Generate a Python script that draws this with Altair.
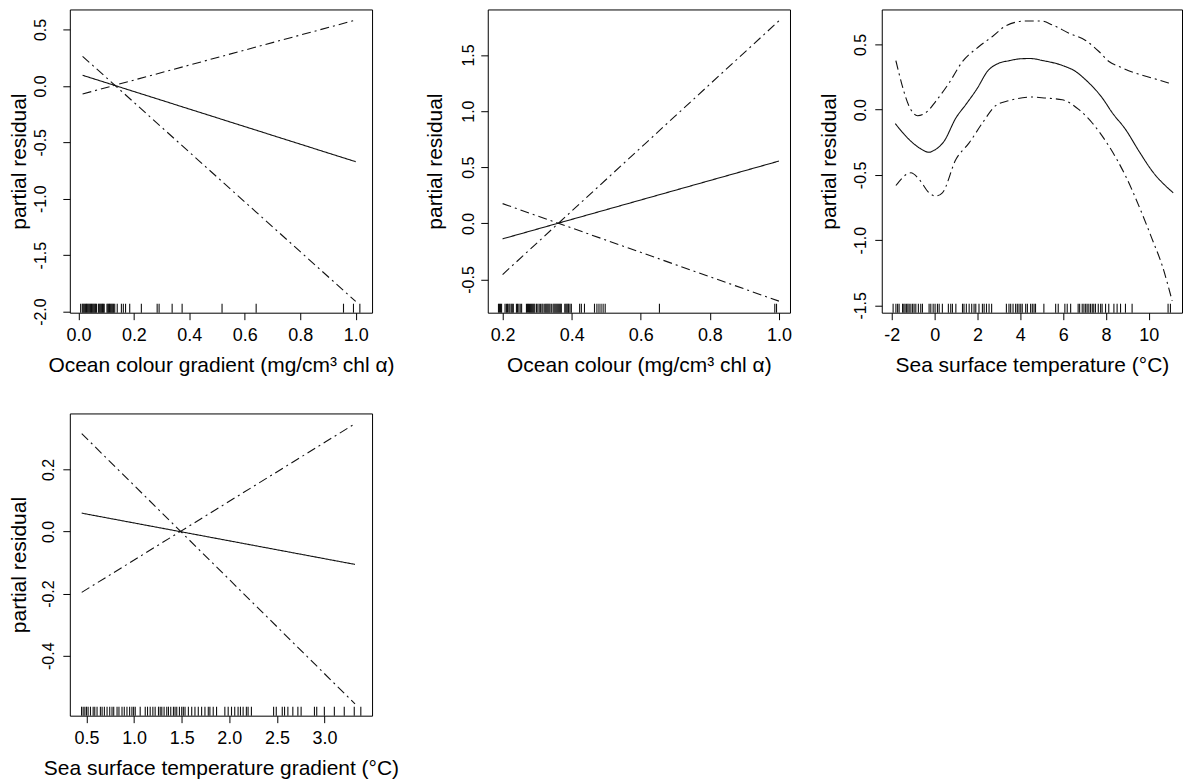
import altair as alt
import pandas as pd

FONT = "Liberation Sans"
MINUS_FIX = "replace(datum.label, '\u2212', '-')"
DASH_PATTERN = [9, 4, 2, 4]

# ---------------- Panel 1: Ocean colour gradient ----------------
p1_x = [0.015, 1.0]
p1_fit = [0.094, -0.672]
p1_upper = [-0.072, 0.583]
p1_lower = [0.262, -1.91]
p1_rug = [0.008, 0.014, 0.017, 0.020, 0.023, 0.026, 0.029, 0.032, 0.035, 0.038,
          0.041, 0.044, 0.047, 0.050, 0.053, 0.056, 0.059, 0.062, 0.065, 0.072,
          0.075, 0.078, 0.081, 0.084, 0.087, 0.090, 0.093, 0.103, 0.106, 0.109,
          0.112, 0.115, 0.118, 0.121, 0.124, 0.127, 0.131, 0.140, 0.155, 0.162,
          0.170, 0.185, 0.227, 0.284, 0.291, 0.338, 0.374, 0.518, 0.641, 0.956,
          0.992, 1.015]

# ---------------- Panel 2: Ocean colour ----------------
p2_x = [0.2, 1.0]
p2_fit = [-0.138, 0.555]
p2_upper = [-0.456, 1.805]
p2_lower = [0.176, -0.693]
p2_rug = [0.188, 0.191, 0.194, 0.197, 0.207, 0.211, 0.214, 0.218, 0.221, 0.225,
          0.228, 0.231, 0.240, 0.243, 0.247, 0.251, 0.255, 0.269, 0.272, 0.275,
          0.278, 0.281, 0.284, 0.287, 0.290, 0.293, 0.298, 0.302, 0.306, 0.310,
          0.314, 0.317, 0.322, 0.325, 0.328, 0.331, 0.334, 0.337, 0.341, 0.346,
          0.349, 0.352, 0.355, 0.358, 0.361, 0.364, 0.367, 0.370, 0.380, 0.383,
          0.386, 0.389, 0.391, 0.395, 0.399, 0.423, 0.428, 0.437, 0.466, 0.473,
          0.479, 0.485, 0.491, 0.497, 0.654, 0.988, 0.993]

# ---------------- Panel 3: Sea surface temperature ----------------
p3_fit_x = [-1.84, -1.19, -0.72, -0.26, -0.02, 0.44, 0.99, 1.45, 2.0, 2.46, 3.01,
            3.47, 4.0, 4.48, 5.03, 5.96, 6.58, 7.05, 7.83, 8.3, 8.92, 9.54, 10.16, 11.14]
p3_fit = [-0.107, -0.229, -0.293, -0.326, -0.311, -0.242, -0.064, 0.038, 0.166, 0.293,
          0.357, 0.375, 0.390, 0.392, 0.377, 0.339, 0.293, 0.229, 0.089, -0.025,
          -0.153, -0.318, -0.471, -0.637]
p3_upper_x = [-1.81, -1.11, -0.80, -0.34, 0.05, 0.67, 1.30, 2.07, 2.70, 3.32, 4.25,
              4.95, 5.50, 6.27, 7.05, 7.67, 8.14, 8.61, 9.38, 10.16, 10.94]
p3_upper = [0.375, 0.0, -0.046, -0.013, 0.064, 0.204, 0.369, 0.484, 0.561, 0.642, 0.680,
            0.680, 0.650, 0.586, 0.530, 0.446, 0.369, 0.331, 0.280, 0.242, 0.204]
p3_lower_x = [-1.81, -1.11, -0.72, -0.26, 0.05, 0.36, 0.99, 1.61, 2.23, 2.85, 3.47,
              4.56, 5.18, 5.96, 6.74, 7.36, 8.14, 8.92, 9.54, 10.16, 10.63, 11.09]
p3_lower = [-0.581, -0.484, -0.535, -0.637, -0.662, -0.637, -0.382, -0.255, -0.102, 0.031,
            0.069, 0.097, 0.089, 0.076, 0.0, -0.102, -0.280, -0.510, -0.739, -0.994,
            -1.197, -1.465]
p3_rug = [-1.94, -1.81, -1.73, -1.66, -1.50, -1.44, -1.38, -1.31, -1.25, -1.19, -1.11,
          -1.03, -0.96, -0.88, -0.76, -0.65, -0.57, -0.26, -0.18, -0.07, 0.02, 0.13,
          0.21, 0.36, 0.64, 0.75, 0.83, 0.99, 1.30, 1.37, 1.48, 1.61, 1.73, 1.84, 1.92,
          2.07, 2.23, 2.31, 2.42, 2.54, 2.66, 3.35, 3.47, 3.55, 3.66, 3.78, 3.86, 3.94,
          4.02, 4.09, 4.25, 4.33, 4.48, 4.56, 4.64, 4.71, 5.10, 5.65, 5.77, 6.08, 6.19,
          6.35, 6.70, 6.77, 6.89, 6.97, 7.05, 7.12, 7.20, 7.28, 7.36, 7.43, 7.51, 7.64,
          7.75, 7.82, 7.98, 8.13, 8.37, 8.52, 8.68, 8.91, 9.22, 10.90, 11.01]

# ---------------- Panel 4: Sea surface temperature gradient ----------------
p4_x = [0.45, 3.32]
p4_fit = [0.059, -0.106]
p4_upper = [-0.196, 0.347]
p4_lower = [0.315, -0.555]
p4_rug = [0.448, 0.465, 0.483, 0.500, 0.517, 0.542, 0.570, 0.587, 0.611, 0.646, 0.664,
          0.688, 0.716, 0.744, 0.768, 0.786, 0.821, 0.841, 0.873, 0.897, 0.925, 0.953,
          0.977, 0.995, 1.012, 1.064, 1.117, 1.141, 1.169, 1.197, 1.221, 1.256, 1.274,
          1.291, 1.315, 1.343, 1.361, 1.385, 1.413, 1.430, 1.448, 1.476, 1.500, 1.517,
          1.535, 1.570, 1.605, 1.639, 1.674, 1.709, 1.744, 1.779, 1.796, 1.831, 1.866,
          1.953, 1.988, 2.023, 2.057, 2.092, 2.117, 2.145, 2.179, 2.197, 2.232, 2.465,
          2.493, 2.556, 2.580, 2.615, 2.667, 2.720, 2.754, 2.894, 2.918, 2.998, 3.103,
          3.207, 3.312, 3.381]


def lines_df(fit_x, fit, up_x, up, lo_x, lo):
    rows = []
    for xs, ys, name in ((fit_x, fit, "fit"), (up_x, up, "upper"), (lo_x, lo, "lower")):
        for xv, yv in zip(xs, ys):
            rows.append({"x": xv, "y": yv, "series": name})
    return pd.DataFrame(rows)


def panel(df, rug, xdom, ydom, xticks, yticks, xtitle, w, h, ylabpad, ytitlex,
          xfmt, yfmt, interp="linear"):
    xenc = alt.X(
        "x:Q",
        scale=alt.Scale(domain=xdom, nice=False, zero=False),
        axis=alt.Axis(
            values=xticks, format=xfmt, title=xtitle, labelExpr=MINUS_FIX,
            grid=False, domain=False, tickSize=7, tickColor="black",
            labelPadding=21, labelBaseline="alphabetic", labelFontSize=18,
            labelFlush=False, labelOverlap=False,
            titleFontSize=21, titleX=w / 2, titleY=59, titleAlign="center",
            titleBaseline="alphabetic", titleFontWeight="normal",
        ),
    )
    yenc = alt.Y(
        "y:Q",
        scale=alt.Scale(domain=ydom, nice=False, zero=False),
        axis=alt.Axis(
            values=yticks, format=yfmt, title="partial residual", labelExpr=MINUS_FIX,
            grid=False, domain=False, tickSize=7, tickColor="black",
            labelAngle=270, labelAlign="center", labelBaseline="alphabetic",
            labelPadding=ylabpad, labelFontSize=16, labelFlush=False, labelOverlap=False,
            titleAngle=270, titleX=ytitlex, titleY=h / 2, titleAlign="center",
            titleBaseline="alphabetic", titleFontSize=21, titleFontWeight="normal",
        ),
    )
    line = alt.Chart(df).mark_line(color="#111111", strokeWidth=1.1, interpolate=interp).encode(
        x=xenc,
        y=yenc,
        detail="series:N",
        strokeDash=alt.StrokeDash(
            "series:N",
            scale=alt.Scale(domain=["fit", "upper", "lower"],
                            range=[[1, 0], DASH_PATTERN, DASH_PATTERN]),
            legend=None,
        ),
    )
    rug_chart = alt.Chart(pd.DataFrame({"x": rug})).mark_rule(
        color="#111111", strokeWidth=1.1
    ).encode(
        x=xenc,
        y=alt.value(h - 9),
        y2=alt.value(h),
    )
    return alt.layer(rug_chart, line).properties(width=w, height=h)


H = 304
c1 = panel(lines_df(p1_x, p1_fit, p1_x, p1_upper, p1_x, p1_lower), p1_rug,
           [-0.031, 1.059], [-2.01, 0.677], [0, 0.2, 0.4, 0.6, 0.8, 1.0],
           [-2.0, -1.5, -1.0, -0.5, 0.0, 0.5],
           "Ocean colour gradient (mg/cm\u00b3 chl \u03b1)", 303, H, 17, -44.5, ".1f", ".1f")
c2 = panel(lines_df(p2_x, p2_fit, p2_x, p2_upper, p2_x, p2_lower), p2_rug,
           [0.157, 1.032], [-0.796, 1.906], [0.2, 0.4, 0.6, 0.8, 1.0],
           [-0.5, 0.0, 0.5, 1.0, 1.5],
           "Ocean colour (mg/cm\u00b3 chl \u03b1)", 303, H, 7.5, -46.5, ".1f", ".1f")
c3 = panel(lines_df(p3_fit_x, p3_fit, p3_upper_x, p3_upper, p3_lower_x, p3_lower), p3_rug,
           [-2.47, 11.55], [-1.556, 0.768], [-2, 0, 2, 4, 6, 8, 10],
           [-1.5, -1.0, -0.5, 0.0, 0.5],
           "Sea surface temperature (\u00b0C)", 301, H, 9.3, -46.3, "d", ".1f",
           interp="monotone")
c4 = panel(lines_df(p4_x, p4_fit, p4_x, p4_upper, p4_x, p4_lower), p4_rug,
           [0.325, 3.499], [-0.593, 0.38], [0.5, 1.0, 1.5, 2.0, 2.5, 3.0],
           [-0.4, -0.2, 0.0, 0.2],
           "Sea surface temperature gradient (\u00b0C)", 303, 303, 9, -44.5, ".1f", ".1f")

top = alt.hconcat(
    alt.hconcat(c1, c2, spacing=29),
    c3, spacing=26,
)
chart = alt.vconcat(top, c4, spacing=36).properties(
    padding={"left": 8, "top": 7.5, "right": 0, "bottom": 0},
    background="white",
).configure(
    font=FONT
).configure_view(
    stroke="black", strokeWidth=1
).configure_axis(
    labelFont=FONT, titleFont=FONT, labelColor="black", titleColor="black",
)

chart.save("out.html", embed_options={"renderer": "svg", "actions": False})
